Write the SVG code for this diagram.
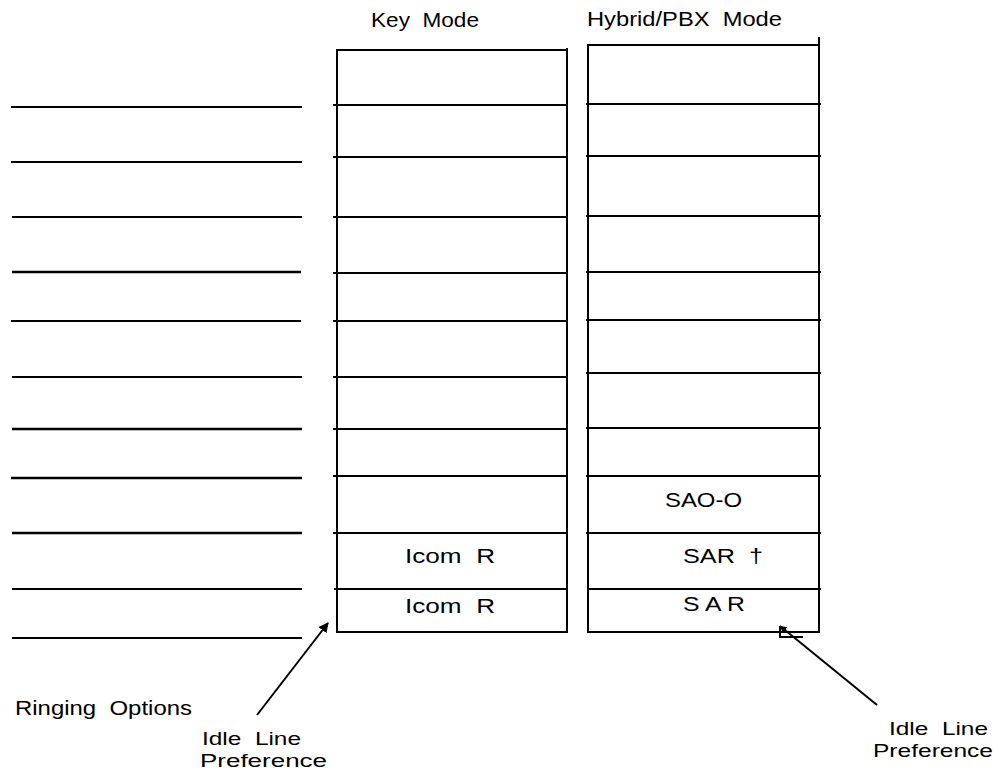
<svg xmlns="http://www.w3.org/2000/svg" width="998" height="775" viewBox="0 0 998 775">
<style>
.ln{stroke:#000;stroke-width:2;fill:none}
.thk{stroke:#000;stroke-width:2.6;fill:none}
.t{font-family:"Liberation Sans",Arial,sans-serif;font-size:21px;fill:#000;white-space:pre}
.s{font-size:18px}
</style>
<defs>
<marker id="ah" markerWidth="10" markerHeight="10" refX="9" refY="5" orient="auto" markerUnits="userSpaceOnUse" viewBox="0 0 10 10">
<path d="M0,0 L10,5 L0,10 z" fill="#000"/>
</marker>
<marker id="ahs" markerWidth="7" markerHeight="7" refX="6.5" refY="3.5" orient="auto" markerUnits="userSpaceOnUse" viewBox="0 0 7 7">
<path d="M0,0 L7,3.5 L0,7 z" fill="#000"/>
</marker>
</defs>
<rect width="998" height="775" fill="#fff"/>

<g id="header-key"><text class="t" x="371" y="27" textLength="108" lengthAdjust="spacingAndGlyphs" xml:space="preserve">Key  Mode</text></g>
<g id="header-hybrid"><text class="t" x="587" y="25.5" textLength="195" lengthAdjust="spacingAndGlyphs" xml:space="preserve">Hybrid/PBX  Mode</text></g>

<g id="ringing-lines">
<line class="ln" x1="11" y1="107" x2="302" y2="107"/>
<line class="ln" x1="11" y1="162" x2="302" y2="162"/>
<line class="ln" x1="12" y1="217" x2="302" y2="217"/>
<line class="thk" x1="12" y1="272" x2="301" y2="272"/>
<line class="ln" x1="11" y1="321" x2="301" y2="321"/>
<line class="ln" x1="12" y1="377" x2="302" y2="377"/>
<line class="thk" x1="12" y1="429" x2="302" y2="429"/>
<line class="thk" x1="11" y1="478" x2="302" y2="478"/>
<line class="thk" x1="12" y1="533" x2="302" y2="533"/>
<line class="ln" x1="12" y1="589" x2="302" y2="589"/>
<line class="ln" x1="12" y1="638" x2="302" y2="638"/>
</g>

<g id="key-mode">
<line class="ln" x1="337" y1="50" x2="337" y2="633"/>
<line class="ln" x1="567" y1="48" x2="567" y2="633"/>
<line class="ln" x1="336" y1="50" x2="567" y2="50"/>
<line class="ln" x1="333" y1="105" x2="568" y2="105"/>
<line class="ln" x1="333" y1="157" x2="568" y2="157"/>
<line class="ln" x1="333" y1="217" x2="568" y2="217"/>
<line class="ln" x1="333" y1="273" x2="568" y2="273"/>
<line class="ln" x1="333" y1="321" x2="568" y2="321"/>
<line class="ln" x1="333" y1="377" x2="568" y2="377"/>
<line class="ln" x1="333" y1="429" x2="568" y2="429"/>
<line class="ln" x1="333" y1="476" x2="568" y2="476"/>
<line class="ln" x1="333" y1="533" x2="568" y2="533"/>
<line class="ln" x1="334" y1="589" x2="568" y2="589"/>
<line class="ln" x1="336" y1="632" x2="568" y2="632"/>
<text class="t" x="405" y="563" textLength="90" lengthAdjust="spacingAndGlyphs" xml:space="preserve">Icom  R</text>
<text class="t" x="405" y="613" textLength="90" lengthAdjust="spacingAndGlyphs" xml:space="preserve">Icom  R</text>
</g>

<g id="hybrid-mode">
<line class="ln" x1="588" y1="45" x2="588" y2="633"/>
<line class="ln" x1="819" y1="37" x2="819" y2="633"/>
<line class="ln" x1="587" y1="45" x2="819" y2="45"/>
<line class="ln" x1="586" y1="104" x2="821" y2="104"/>
<line class="ln" x1="586" y1="156" x2="821" y2="156"/>
<line class="ln" x1="586" y1="216" x2="821" y2="216"/>
<line class="ln" x1="586" y1="272" x2="821" y2="272"/>
<line class="ln" x1="586" y1="320" x2="821" y2="320"/>
<line class="ln" x1="586" y1="373" x2="821" y2="373"/>
<line class="ln" x1="586" y1="428" x2="821" y2="428"/>
<line class="ln" x1="586" y1="476" x2="821" y2="476"/>
<line class="ln" x1="586" y1="533" x2="821" y2="533"/>
<line class="ln" x1="587" y1="589" x2="821" y2="589"/>
<line class="ln" x1="588" y1="632" x2="820" y2="632"/>
<text class="t" x="665" y="507" textLength="77" lengthAdjust="spacingAndGlyphs">SAO-O</text>
<text class="t" x="683" y="563" textLength="80" lengthAdjust="spacingAndGlyphs" xml:space="preserve">SAR  †</text>
<text class="t" x="683" y="611" textLength="62" lengthAdjust="spacingAndGlyphs" xml:space="preserve">S A R</text>
</g>

<g id="label-ringing"><text class="t" x="15" y="715" textLength="177" lengthAdjust="spacingAndGlyphs" xml:space="preserve">Ringing  Options</text></g>
<g id="label-idle-left">
<text class="t s" x="202" y="745" textLength="99" lengthAdjust="spacingAndGlyphs" xml:space="preserve">Idle  Line</text>
<text class="t s" x="200" y="767" textLength="127" lengthAdjust="spacingAndGlyphs">Preference</text>
</g>
<g id="label-idle-right">
<text class="t s" x="889" y="735" textLength="99" lengthAdjust="spacingAndGlyphs" xml:space="preserve">Idle  Line</text>
<text class="t s" x="873" y="757" textLength="120" lengthAdjust="spacingAndGlyphs">Preference</text>
</g>

<g id="connectors">
<line class="ln" x1="257" y1="715" x2="328" y2="623" marker-end="url(#ah)"/>
<line class="ln" x1="877" y1="705" x2="780" y2="626" marker-end="url(#ahs)"/>
<polyline class="ln" points="780,626 780,637 803,637"/>
</g>
</svg>
